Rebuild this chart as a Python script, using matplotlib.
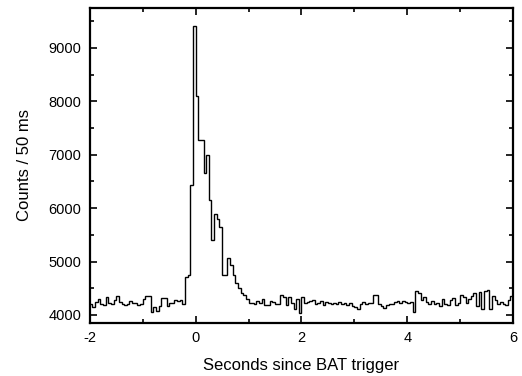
import matplotlib
matplotlib.use("Agg")
import matplotlib.pyplot as plt
from matplotlib.ticker import MultipleLocator
import numpy as np

plt.rcParams['font.family'] = ['Liberation Sans', 'DejaVu Sans']
plt.rcParams['axes.unicode_minus'] = False

# light curve, 50 ms bins from -2 s to 6 s
bin_width = 0.05
t_start = -2.0

pre_trigger = [4200, 4150, 4250, 4300, 4200, 4180, 4330, 4220, 4200, 4280,
               4360, 4250, 4210, 4180, 4200, 4270, 4220, 4230, 4180, 4210,
               4300, 4350, 4360, 4060, 4150, 4080, 4170, 4320, 4310, 4170,
               4230, 4220, 4280, 4260, 4280, 4210]

burst = [4720, 4740, 6440, 9420, 8100, 7270, 7270, 6650, 7000, 6150,
         5400, 5900, 5800, 5650, 4750, 4750, 5060, 4940, 4750, 4600,
         4510, 4420, 4380, 4300]

post_burst = [4220, 4230, 4200, 4270, 4220, 4300, 4190, 4180, 4260, 4240,
              4200, 4210, 4370, 4330, 4180, 4330, 4220, 4120, 4300, 4040,
              4340, 4230, 4240, 4270, 4280, 4200, 4230, 4260, 4190, 4250,
              4230, 4200, 4230, 4210, 4240, 4200, 4220, 4190, 4230, 4160,
              4150, 4120, 4210, 4240, 4200, 4220, 4230, 4370, 4380, 4200,
              4160, 4130, 4180, 4210, 4200, 4240, 4260, 4230, 4270, 4250,
              4220, 4240, 4060, 4440, 4410, 4280, 4330, 4250, 4210, 4270,
              4200, 4230, 4160, 4290, 4200, 4180, 4280, 4320, 4180, 4230,
              4370, 4330, 4220, 4300, 4350, 4410, 4170, 4430, 4120, 4450,
              4460, 4110, 4350, 4280, 4200, 4240, 4210, 4190, 4280, 4360]

counts = np.array(pre_trigger + burst + post_burst)
edges = t_start + bin_width * np.arange(len(counts) + 1)

fig = plt.figure(figsize=(5.22, 3.76), dpi=100)
ax = fig.add_axes([0.172, 0.141, 0.811, 0.838])

ax.stairs(counts, edges, color="black", linewidth=1.0, baseline=None)

ax.set_xlim(-2, 6)
ax.set_ylim(3850, 9750)
ax.xaxis.set_major_locator(MultipleLocator(2))
ax.xaxis.set_minor_locator(MultipleLocator(1))
ax.yaxis.set_major_locator(MultipleLocator(1000))
ax.yaxis.set_minor_locator(MultipleLocator(500))

ax.tick_params(which="both", direction="in", top=True, right=True,
               width=1.2, labelsize=10.5)
ax.tick_params(which="major", length=5, pad=6)
ax.tick_params(which="minor", length=3)
for s in ax.spines.values():
    s.set_linewidth(1.6)

ax.set_xlabel("Seconds since BAT trigger", fontsize=12, labelpad=9)
ax.set_ylabel("Counts / 50 ms", fontsize=12, labelpad=12)

fig.savefig("out.png", dpi=100)
